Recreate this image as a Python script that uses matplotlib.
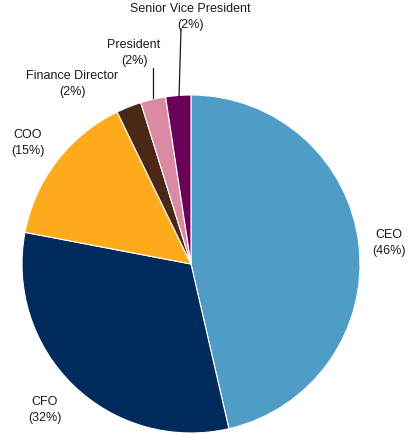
import matplotlib.pyplot as plt

# Titel und Anteile (Prozent)
labels = ["CEO", "CFO", "COO", "Finance Director", "President", "Senior Vice President"]
shares = [46.4, 31.6, 14.8, 2.4, 2.4, 2.4]
shown = [46, 32, 15, 2, 2, 2]
colors = ["#4f9cc6", "#002b5c", "#fdab1a", "#4b2716", "#dc89a4", "#6b0058"]

plt.rcParams['font.family'] = ['Liberation Sans', 'DejaVu Sans']

fig = plt.figure(figsize=(4.11, 4.34), dpi=100)
ax = fig.add_axes([0, 0, 1, 1])

ax.pie(shares, colors=colors, startangle=90, counterclock=False,
       center=(191, 434 - 264), radius=169, frame=True,
       wedgeprops=dict(edgecolor='white', linewidth=0.8))
ax.set_xlim(0, 411)
ax.set_ylim(0, 434)
ax.axis('off')

# Beschriftungspositionen (Pixel vom oberen Rand)
label_pos = [(389, 243), (45, 410), (28, 143), (72, 84), (134, 53), (190, 17)]
for name, val, (x, y) in zip(labels, shown, label_pos):
    ax.text(x, 434 - y, f"{name}\n({val}%)", ha='center', va='center',
            fontsize=9, color='#1a1a1a', linespacing=1.35)

# Führungslinien für kleine Segmente
ax.plot([153, 153], [434 - 68, 434 - 98], color='#1a1a1a', lw=0.9)
ax.plot([181, 179], [434 - 29, 434 - 97], color='#1a1a1a', lw=0.9)

fig.savefig("out.png", dpi=100)
